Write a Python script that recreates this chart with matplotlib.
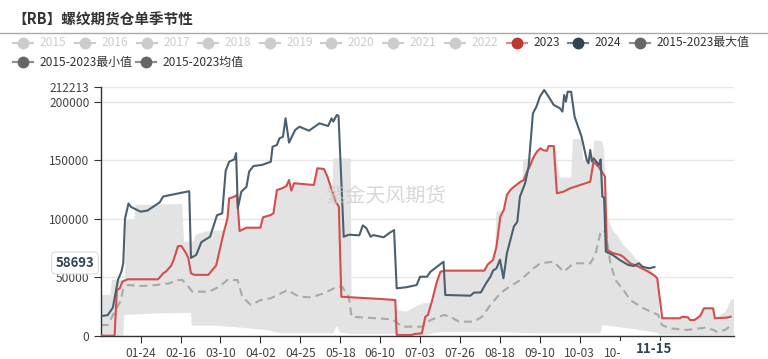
import matplotlib
matplotlib.use('Agg')
import matplotlib.pyplot as plt
from matplotlib.lines import Line2D
from matplotlib.patches import Rectangle
import numpy as np

plt.rcParams['font.family'] = ['Noto Sans CJK SC', 'DejaVu Sans']

# 数据（按一年中的天数，0 = 01-01）
days_2024 = [1, 4, 7, 9, 10, 12, 13, 14, 16, 17.5, 23, 27, 31, 34, 36, 51, 52, 55, 58, 63,
             67, 70, 72, 74, 77, 78, 79, 81, 84, 85.5, 88, 93, 98, 99, 101.5, 103, 105, 106.5, 108.5, 112,
             114.5, 120, 126, 131, 133, 134, 136, 137, 140, 143, 149, 151, 153, 155.5, 157, 163, 166, 169, 170.5, 176,
             182, 184, 188, 190, 193, 195, 197.5, 198.5, 213, 215, 219, 222, 224.5, 226, 228, 230, 232, 234, 238, 240,
             241.5, 244.5, 246.5, 249, 251, 253, 255.5, 258, 261, 264.5, 266, 267, 268, 269, 271, 273, 277, 280, 281, 282,
             283, 284, 287, 288, 289, 290, 291, 295, 299, 304, 307, 310, 312, 316, 319]
vals_2024 = [17000, 17500, 24000, 40000, 48000, 55000, 62000, 100000, 113000, 110000,
             106000, 107000, 111000, 114000, 119000, 123500, 66500, 69000, 80000, 84600,
             103000, 104600, 141000, 148700, 150700, 156000, 109000, 123000, 127300, 140200,
             145000, 146000, 148700, 161500, 163000, 168700, 170000, 185800, 165000, 175800,
             178600, 175200, 181500, 179200, 185800, 183000, 188600, 188000, 84600, 86300,
             85800, 94300, 92000, 84600, 86000, 84100, 87500, 90300, 40500, 41400,
             43300, 50400, 50400, 54700, 58100, 60400, 63200, 34800, 34200, 36800,
             37000, 44800, 50400, 55600, 57600, 65000, 49000, 70400, 93200, 97400,
             118800, 130300, 144400, 190100, 195700, 204300, 210000, 204300, 197200, 194400,
             191500, 205700, 200000, 208500, 208500, 187200, 170100, 150200, 147300, 158700,
             149000, 151600, 145900, 150700, 118800, 118000, 71800, 69000, 64700, 60400,
             59600, 61900, 59000, 57600, 58693]

days_2023 = [0, 8, 9.3, 11, 12.5, 15.5, 33, 36, 37.5, 40.5, 42, 44.5, 46.5, 49, 50.5, 52, 54, 62, 66.5, 69,
             71, 73, 74, 76.5, 78.5, 80, 84, 92, 93.5, 98, 99.5, 101.5, 104.5, 107, 108.5, 109.8, 111.4, 122.8, 124.8, 128.6,
             130.6, 135.4, 137.2, 138.6, 161, 169.7, 170.5, 179, 181, 185, 187, 188.5, 191, 193.4, 195.7, 198.5, 221, 223, 226, 228,
             230.2, 232.2, 234, 236, 237, 241.8, 243.7, 245.6, 247.5, 249.5, 251.3, 253.2, 255, 257, 258, 261, 262.8, 266.6, 270.5, 282,
             283.9, 286.8, 289.6, 290.5, 291.6, 295.5, 299.3, 301, 305, 309.8, 315.5, 319.3, 320.6, 323.5, 333.7, 335, 338.3, 339.5, 342, 345.3,
             347.5, 352.8, 353.8, 360.5, 362.9]
vals_2023 = [0, 0, 39000, 40500, 46200, 48200, 48200, 53300, 54700, 59600,
             64700, 76500, 76700, 70900, 66200, 53300, 52000, 52000, 60000, 76100,
             88900, 100000, 117400, 118500, 120300, 89500, 92300, 92300, 101200, 103200,
             104600, 124500, 126000, 128000, 133100, 124000, 130300, 128800, 143100, 142500,
             135900, 114500, 110300, 33300, 31400, 30500, 600, 600, 1500, 2000,
             16200, 17700, 30500, 44800, 54700, 55600, 55600, 61000, 64700, 76100,
             101700, 107400, 120300, 124500, 126000, 131600, 133000, 140200, 145900, 153000,
             157300, 160200, 158500, 158000, 162100, 162100, 121700, 123100, 126000, 131600,
             148700, 144400, 138000, 136000, 73200, 70400, 69000, 67500, 61900, 59000,
             54700, 51000, 49000, 14900, 14900, 16200, 15700, 13400, 13400, 16800,
             23400, 23400, 14900, 15400, 16200]

days_mean = [0, 4, 11.7, 13, 15.6, 24, 32, 39.5, 44, 47, 48.6, 52.9, 62.5, 68.3, 73, 78.8, 81.6, 86.5, 92.2, 98,
             101.8, 107.6, 114.3, 121, 128.6, 136.3, 139, 143, 144.5, 168, 173.8, 185.2, 190, 197.6, 201.5, 206.3, 214.9, 219.7, 224.5, 230.2,
             234.1, 241.8, 249.4, 253.2, 260.9, 266.7, 272.5, 282, 284.9, 287.8, 289, 291, 293.6, 296.5, 301.2, 305, 312.7, 321.3, 323.3, 328,
             337.6, 345.3, 348, 353.2, 354.8, 359.6, 363.6]
vals_mean = [9100, 9100, 30500, 40500, 43300, 42500, 43300, 44800, 47600, 47600,
             45300, 37600, 37600, 41900, 47600, 47600, 33300, 26200, 30500, 32000,
             34800, 39000, 33300, 32800, 36200, 41900, 41900, 33000, 16200, 14000,
             7700, 7700, 13400, 17700, 16200, 12000, 12000, 16200, 26200, 36200,
             40500, 47600, 57600, 61900, 63200, 54700, 61900, 61900, 69000, 87500,
             90300, 88000, 61900, 47600, 39000, 30500, 23400, 17700, 9100, 6300,
             4900, 6300, 6800, 4900, 3400, 4900, 9100]

days_max = [0, 5.5, 6.5, 14, 14.5, 19.5, 20, 47, 48, 53.6, 54.6, 60, 66, 70, 71, 73, 74, 76.5, 78.5, 80,
            84, 92, 93.5, 98, 99.5, 101.5, 104.5, 107, 108.5, 109.8, 111.4, 122.8, 124.8, 128.6, 130.6, 133.5, 134, 144, 144.5, 161,
            169.7, 170.5, 176, 183, 186, 190.5, 191, 193.4, 195.7, 198.5, 221, 223, 226, 227, 228, 232.2, 234, 236, 237, 241.8,
            243, 243.5, 249.5, 251.3, 253.2, 255, 257, 258, 261, 262, 263, 264.5, 271, 272, 277, 278, 283, 284.5, 289, 290,
            291, 292, 295, 298, 301, 304, 310, 318, 321, 322, 323.5, 333.7, 335, 338.3, 339.5, 342, 345.3, 347.5, 352.8, 353.8,
            357, 360, 363, 365]
vals_max = [34800, 34800, 47600, 48200, 98900, 98900, 111700, 112600, 80300, 80300,
            86000, 88900, 89700, 90000, 90000, 104600, 117400, 118500, 120300, 89500,
            92300, 92300, 101200, 103200, 104600, 124500, 126000, 128000, 133100, 124000,
            130300, 128800, 143100, 142500, 135900, 123000, 151600, 151600, 33300, 31400,
            30500, 22000, 20500, 26000, 27700, 28000, 30500, 44800, 54700, 55600,
            55600, 61000, 64700, 66000, 106000, 107400, 120300, 124500, 126000, 131600,
            133000, 150200, 153000, 157300, 160200, 158500, 158000, 162100, 162100, 162100,
            150000, 135000, 135000, 168000, 168000, 150000, 150000, 167000, 166000, 158000,
            118000, 101000, 90000, 85000, 77500, 73200, 63200, 55000, 49000, 16200,
            14900, 14900, 16200, 15700, 13400, 13400, 16800, 23400, 23400, 14900,
            17700, 20500, 30500, 32000]

days_min = [0, 13, 13.6, 33, 52, 52.5, 66, 80, 95, 104, 134, 136, 138, 145, 170, 171, 186, 191, 195, 230,
            253, 288, 289, 300, 310, 320, 322, 345, 365]
vals_min = [0, 0, 17700, 19100, 19500, 8500, 8500, 7000, 4900, 2000, 2000, 8000, 2500, 1500, 1500, 0, 0, 2000, 3000, 3000,
            2000, 2000, 9100, 7000, 5000, 2500, 1000, 500, 500]

tick_days = [23, 46, 69, 92, 115, 138, 161, 184, 207, 230, 253, 276, 299, 322]
tick_labels = ['01-24', '02-16', '03-10', '04-02', '04-25', '05-18', '06-10', '07-03',
               '07-26', '08-18', '09-10', '10-03', '10-26', '']
y_ticks = [0, 50000, 100000, 150000, 200000, 212213]

legend_names = ['2015', '2016', '2017', '2018', '2019', '2020', '2021', '2022', '2023', '2024',
                '2015-2023最大值', '2015-2023最小值', '2015-2023均值']

W, H = 768, 359
fig = plt.figure(figsize=(W / 100, H / 100), dpi=100)


def fx(x):
    return x / W


def fy(y):
    return 1 - y / H


ax = fig.add_axes([fx(100.7), fy(335.7), (734.3 - 100.7) / W, (335.7 - 87.4) / H])

# 区间（最小值-最大值）
ax.fill(np.r_[days_max, days_min[::-1]], np.r_[vals_max, vals_min[::-1]],
        color='#e3e3e3', lw=0, zorder=1)
ax.plot(days_mean, vals_mean, color='#a9a9a9', lw=1.5, dashes=(3.8, 2.4), zorder=2)
ax.plot(days_2023, vals_2023, color='#d14f4d', lw=1.5, zorder=3)
ax.plot(days_2024, vals_2024, color='#4b5f6e', lw=1.5, zorder=4)

ax.set_xlim(0, 365)
ax.set_ylim(0, 212213)
for s in ['top', 'right']:
    ax.spines[s].set_visible(False)
for s in ['left', 'bottom']:
    ax.spines[s].set_color('#333333')
    ax.spines[s].set_linewidth(1)

ax.set_yticks(y_ticks)
ax.set_yticklabels([str(v) for v in y_ticks])
ax.set_xticks(tick_days)
ax.set_xticklabels(tick_labels)
ax.tick_params(axis='both', length=5, color='#333333', labelcolor='#444444', labelsize=8.6, pad=3)
ax.yaxis.grid(True, color='#e6e6e6', lw=1)
ax.set_axisbelow(True)

# 水印
ax.text(0.45, 0.56, '紫金天风期货', transform=ax.transAxes, fontsize=14.5,
        color='#c8c8c8', alpha=0.7, ha='center', va='center', zorder=6)

# 标题
fig.text(fx(12), fy(20), '【RB】螺纹期货仓单季节性', fontsize=10.5, fontweight='bold',
         color='#333333', ha='left', va='center')
fig.add_artist(Line2D([0, 1], [fy(33.3), fy(33.3)], color='#aaaaaa', lw=1))

# 图例
text_x = [40, 102, 164, 225, 287, 348, 410, 472, 534, 595, 657, 40, 163]
rows_y = [42.7] * 11 + [62.3] * 2
dot_colors = ['#cccccc'] * 8 + ['#c23531', '#2f4554', '#666666', '#666666', '#666666']
line_colors = ['#cccccc'] * 8 + ['#dc8a88', '#74828f', '#8c8c8c', '#8c8c8c', '#8c8c8c']
text_colors = ['#cccccc'] * 8 + ['#333333'] * 5
for name, tx, ty, dc, lc, tc in zip(legend_names, text_x, rows_y, dot_colors, line_colors, text_colors):
    cx = tx - 17.5
    fig.add_artist(Line2D([fx(cx - 10), fx(cx + 10)], [fy(ty), fy(ty)], color=lc, lw=1.5))
    fig.add_artist(Line2D([fx(cx)], [fy(ty)], marker='o', markersize=7.5, color=dc, lw=0))
    fig.text(fx(tx), fy(ty), name, fontsize=8.6, color=tc, ha='left', va='center')

# 坐标轴指示器标签
fig.text(fx(75), fy(263), '58693', fontsize=9.5, fontweight='bold', color='#2f4554',
         ha='center', va='center',
         bbox=dict(boxstyle='round,pad=0.3', fc='white', ec='#dddddd', lw=0.8))
fig.add_artist(Rectangle((fx(620), fy(358)), (686 - 620) / W, (358 - 341) / H,
                         transform=fig.transFigure, fc='white', ec='none'))
fig.text(fx(654), fy(349), '11-15', fontsize=9.5, fontweight='bold', color='#2f4554',
         ha='center', va='center')

fig.savefig('out.png', dpi=100)
